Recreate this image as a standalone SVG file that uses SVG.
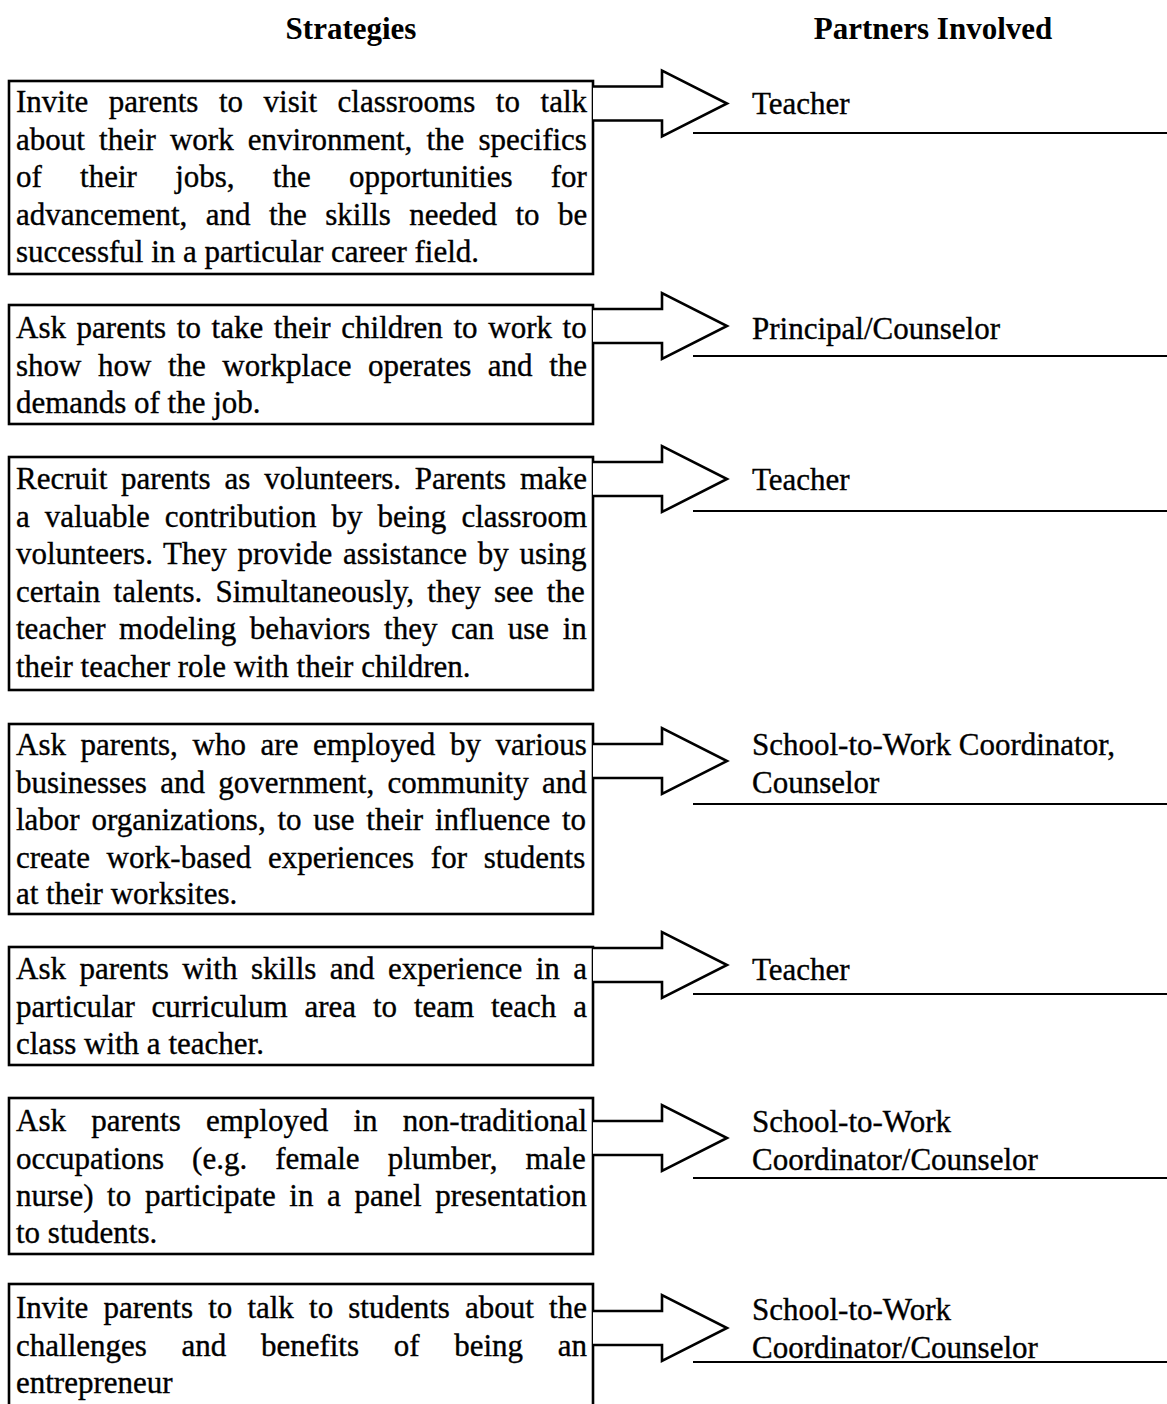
<svg xmlns="http://www.w3.org/2000/svg" width="1167" height="1404" viewBox="0 0 1167 1404">
  <style>
    .hdr { font-family: "Liberation Serif", "Times New Roman", serif; font-size: 31px; font-weight: bold; text-anchor: middle; fill: #000; }
    .body { font-family: "Liberation Serif", "Times New Roman", serif; font-size: 31px; fill: #000; stroke: #000; stroke-width: 0.35; }
    .box { fill: #fff; stroke: #000; stroke-width: 2.6; }
    .arrow { fill: #fff; stroke: #000; stroke-width: 2.6; stroke-linejoin: miter; }
    .rule { stroke: #000; stroke-width: 2.2; }
  </style>
  <rect width="1167" height="1404" fill="#fff"/>

  <!-- column headings -->
  <g id="headings">
    <text class="hdr" x="351" y="39">Strategies</text>
    <text class="hdr" x="933" y="39">Partners Involved</text>
  </g>

  <!-- strategy boxes (justified lines use word-spacing) -->
  <g id="strategy-1">
    <rect class="box" x="9" y="81" width="584" height="193"/>
    <text class="body" x="16" y="112" word-spacing="12.8">Invite parents to visit classrooms to talk</text>
    <text class="body" x="16" y="149.5" word-spacing="6.4">about their work environment, the specifics</text>
    <text class="body" x="16" y="187" word-spacing="30.5">of their jobs, the opportunities for</text>
    <text class="body" x="16" y="224.5" word-spacing="10.7">advancement, and the skills needed to be</text>
    <text class="body" x="16" y="262">successful in a particular career field.</text>
  </g>

  <g id="strategy-2">
    <rect class="box" x="9" y="305" width="584" height="119"/>
    <text class="body" x="16" y="338" word-spacing="2.9">Ask parents to take their children to work to</text>
    <text class="body" x="16" y="375.5" word-spacing="8.8">show how the workplace operates and the</text>
    <text class="body" x="16" y="413">demands of the job.</text>
  </g>

  <g id="strategy-3">
    <rect class="box" x="9" y="457" width="584" height="233"/>
    <text class="body" x="16" y="489" word-spacing="6.1">Recruit parents as volunteers. Parents make</text>
    <text class="body" x="16" y="526.5" word-spacing="7.3">a valuable contribution by being classroom</text>
    <text class="body" x="16" y="564" word-spacing="3.0">volunteers. They provide assistance by using</text>
    <text class="body" x="16" y="601.5" word-spacing="5.5">certain talents. Simultaneously, they see the</text>
    <text class="body" x="16" y="639" word-spacing="5.9">teacher modeling behaviors they can use in</text>
    <text class="body" x="16" y="676.5">their teacher role with their children.</text>
  </g>

  <g id="strategy-4">
    <rect class="box" x="9" y="724" width="584" height="190"/>
    <text class="body" x="16" y="755" word-spacing="6.9">Ask parents, who are employed by various</text>
    <text class="body" x="16" y="792.5" word-spacing="5.6">businesses and government, community and</text>
    <text class="body" x="16" y="830" word-spacing="4.0">labor organizations, to use their influence to</text>
    <text class="body" x="16" y="867.5" word-spacing="8.9">create work-based experiences for students</text>
    <text class="body" x="16" y="904">at their worksites.</text>
  </g>

  <g id="strategy-5">
    <rect class="box" x="9" y="947" width="584" height="118"/>
    <text class="body" x="16" y="979" word-spacing="5.7">Ask parents with skills and experience in a</text>
    <text class="body" x="16" y="1016.5" word-spacing="9.1">particular curriculum area to team teach a</text>
    <text class="body" x="16" y="1054">class with a teacher.</text>
  </g>

  <g id="strategy-6">
    <rect class="box" x="9" y="1098" width="584" height="156"/>
    <text class="body" x="16" y="1131" word-spacing="17.5">Ask parents employed in non-traditional</text>
    <text class="body" x="16" y="1168.5" word-spacing="20.3">occupations (e.g. female plumber, male</text>
    <text class="body" x="16" y="1206" word-spacing="5.9">nurse) to participate in a panel presentation</text>
    <text class="body" x="16" y="1243">to students.</text>
  </g>

  <g id="strategy-7">
    <rect class="box" x="9" y="1284" width="584" height="140"/>
    <text class="body" x="16" y="1318" word-spacing="7.4">Invite parents to talk to students about the</text>
    <text class="body" x="16" y="1355.5" word-spacing="26.9">challenges and benefits of being an</text>
    <text class="body" x="16" y="1393">entrepreneur</text>
  </g>

  <!-- block arrows from each strategy to its partners -->
  <g id="connectors">
    <polyline class="arrow" points="593,86.5 662,86.5 662,70.5 727,103.5 662,136.5 662,120.5 593,120.5"/>
    <polyline class="arrow" points="593,309 662,309 662,293 727,326 662,359 662,343 593,343"/>
    <polyline class="arrow" points="593,462 662,462 662,446 727,479 662,512 662,496 593,496"/>
    <polyline class="arrow" points="593,744 662,744 662,728 727,761 662,794 662,778 593,778"/>
    <polyline class="arrow" points="593,948 662,948 662,932 727,965 662,998 662,982 593,982"/>
    <polyline class="arrow" points="593,1121 662,1121 662,1105 727,1138 662,1171 662,1155 593,1155"/>
    <polyline class="arrow" points="593,1311 662,1311 662,1295 727,1328 662,1361 662,1345 593,1345"/>
  </g>

  <!-- partner entries with their ruled lines -->
  <g id="partner-1">
    <text class="body" x="752" y="114">Teacher</text>
    <line class="rule" x1="693" y1="133" x2="1167" y2="133"/>
  </g>
  <g id="partner-2">
    <text class="body" x="752" y="339">Principal/Counselor</text>
    <line class="rule" x1="693" y1="356" x2="1167" y2="356"/>
  </g>
  <g id="partner-3">
    <text class="body" x="752" y="490">Teacher</text>
    <line class="rule" x1="693" y1="511" x2="1167" y2="511"/>
  </g>
  <g id="partner-4">
    <text class="body" x="752" y="755">School-to-Work Coordinator,</text>
    <text class="body" x="752" y="793">Counselor</text>
    <line class="rule" x1="693" y1="804" x2="1167" y2="804"/>
  </g>
  <g id="partner-5">
    <text class="body" x="752" y="980">Teacher</text>
    <line class="rule" x1="693" y1="994" x2="1167" y2="994"/>
  </g>
  <g id="partner-6">
    <text class="body" x="752" y="1132">School-to-Work</text>
    <text class="body" x="752" y="1170">Coordinator/Counselor</text>
    <line class="rule" x1="693" y1="1178" x2="1167" y2="1178"/>
  </g>
  <g id="partner-7">
    <text class="body" x="752" y="1320">School-to-Work</text>
    <text class="body" x="752" y="1358">Coordinator/Counselor</text>
    <line class="rule" x1="693" y1="1362" x2="1167" y2="1362"/>
  </g>
</svg>
